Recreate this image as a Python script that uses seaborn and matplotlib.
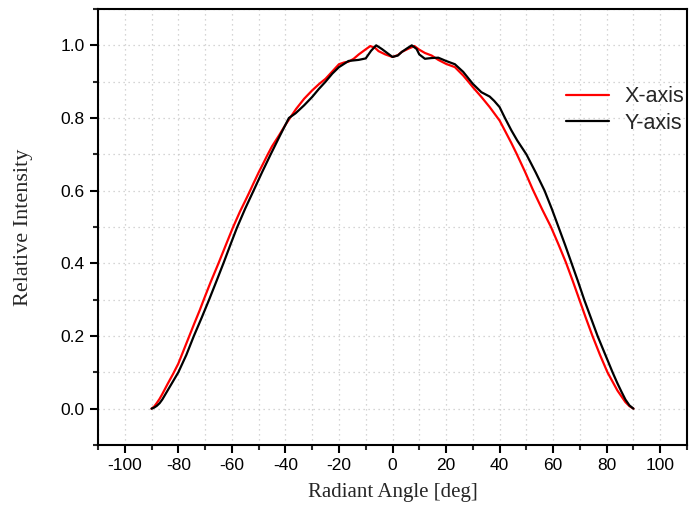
import numpy as np
import pandas as pd
import matplotlib
matplotlib.use("Agg")
import matplotlib.pyplot as plt
from matplotlib.ticker import MultipleLocator
import seaborn as sns

# X-axis series (red)
x_angles = [-90, -89, -88, -87, -86, -85, -84, -82, -80, -78, -76, -74, -72, -70.5, -68, -65, -62, -59.7,
            -57, -55, -53.5, -52, -50, -48, -47, -45, -43, -42.4, -40, -38.3, -36, -33, -30, -27.5, -25,
            -22, -20, -18, -16.4, -14.5, -12.6, -10, -8.3, -6.5, -5.2, -2.7,
            0, 2, 3.5, 6, 8.2, 10, 12.1, 14.6, 17.1, 20, 23.3, 26.4, 28, 30, 33.2, 36.3, 38, 40, 42, 44.4,
            46.4, 49.5, 52.4, 56, 59.2, 62, 64.8, 67.3, 69.8, 72.2, 74.7, 77.5, 80.3, 82, 84, 85.5, 87, 88.5, 90]
x_values = [0.0, 0.006, 0.016, 0.027, 0.04, 0.054, 0.068, 0.095, 0.124, 0.161, 0.198, 0.235, 0.271, 0.3, 0.347, 0.4, 0.455, 0.497,
            0.542, 0.572, 0.595, 0.619, 0.65, 0.679, 0.694, 0.722, 0.745, 0.752, 0.781, 0.8, 0.825, 0.853, 0.876, 0.893, 0.908,
            0.932, 0.948, 0.953, 0.955, 0.963, 0.975, 0.989, 0.998, 0.993, 0.984, 0.975,
            0.968, 0.973, 0.982, 0.991, 0.998, 0.988, 0.979, 0.972, 0.96, 0.949, 0.94, 0.917, 0.903, 0.885, 0.858, 0.83, 0.813, 0.793, 0.765, 0.731,
            0.701, 0.652, 0.603, 0.547, 0.5, 0.452, 0.402, 0.352, 0.3, 0.25, 0.2, 0.148, 0.1, 0.077, 0.05, 0.034, 0.018, 0.007, 0.0]

# Y-axis series (black)
y_angles = [-90, -89, -88, -87, -86, -84, -82, -80, -77, -74.2, -71.3, -68.5, -65.7, -63, -60.5, -58.1, -55,
            -51.9, -48.7, -45.5, -42, -38.7, -36.2, -33, -30, -27.5, -25, -22.5, -20, -16.4, -12.6, -10,
            -8, -6.1, -4, -2, 0, 2, 3.5, 5.5, 7.2, 9, 10, 12.1, 14.6, 17.1,
            20, 23.3, 26.4, 30, 33.2, 36.3, 38, 40, 42, 44.4, 46.6, 50, 53.5, 56.8, 59.5, 62, 64.5, 66.9,
            69.3, 71.6, 74.1, 76.6, 79.4, 82.2, 84, 85.5, 87, 88.5, 90]
y_values = [0.0, 0.003, 0.008, 0.015, 0.025, 0.05, 0.075, 0.1, 0.148, 0.2, 0.25, 0.3, 0.352, 0.403, 0.452, 0.498, 0.551,
            0.6, 0.651, 0.7, 0.752, 0.8, 0.813, 0.835, 0.858, 0.88, 0.9, 0.922, 0.94, 0.957, 0.96, 0.964,
            0.985, 1.0, 0.99, 0.979, 0.968, 0.972, 0.982, 0.992, 1.0, 0.99, 0.975, 0.963, 0.965, 0.966,
            0.957, 0.948, 0.927, 0.894, 0.871, 0.859, 0.847, 0.83, 0.8, 0.766, 0.738, 0.7, 0.65, 0.6, 0.55, 0.5, 0.45, 0.4,
            0.35, 0.3, 0.25, 0.2, 0.15, 0.1, 0.07, 0.047, 0.025, 0.009, 0.0]

series_names = ["X-axis", "Y-axis"]
series_colors = ["#ff0000", "#000000"]

df = pd.concat([
    pd.DataFrame({"angle": x_angles, "value": x_values, "series": series_names[0]}),
    pd.DataFrame({"angle": y_angles, "value": y_values, "series": series_names[1]}),
], ignore_index=True)

sns.set_style("white")
plt.rcParams["font.family"] = ["Liberation Sans", "DejaVu Sans"]

fig = plt.figure(figsize=(6.89, 5.17), dpi=100)
ax = fig.add_axes([98/689, 72/517, 589/689, 436/517])

sns.lineplot(data=df, x="angle", y="value", hue="series", palette=dict(zip(series_names, series_colors)),
             estimator=None, sort=True, linewidth=1.6, ax=ax)
for ln in ax.get_lines():
    ln.set_solid_joinstyle("round")
    ln.set_solid_capstyle("round")

ax.set_xlim(-110, 110)
ax.set_ylim(-0.1, 1.1)
ax.xaxis.set_minor_locator(MultipleLocator(10))
ax.yaxis.set_minor_locator(MultipleLocator(0.1))
ax.set_yticks([0.0, 0.2, 0.4, 0.6, 0.8, 1.0])
ax.set_yticklabels(["0.0", "0.2", "0.4", "0.6", "0.8", "1.0"])
ax.set_xticks(list(range(-100, 101, 20)))
ax.set_xticklabels([str(v) for v in range(-100, 101, 20)])

ax.grid(True, which="both", linestyle=(0, (1, 3)), color="#c8c8c8", linewidth=0.9)
ax.set_axisbelow(True)

ax.tick_params(axis="both", which="major", direction="out", length=6, width=1.5,
               labelsize=12.5, colors="black", bottom=True, left=True, top=False, right=False)
ax.tick_params(axis="both", which="minor", direction="out", length=3.5, width=1.5,
               bottom=True, left=True, top=False, right=False)
for side in ["left", "bottom", "top", "right"]:
    ax.spines[side].set_visible(True)
    ax.spines[side].set_color("black")
    ax.spines[side].set_linewidth(1.5)

ax.set_xlabel("Radiant Angle [deg]", family=["Liberation Serif", "DejaVu Serif"], fontsize=15, labelpad=7)
ax.set_ylabel("Relative Intensity", family=["Liberation Serif", "DejaVu Serif"], fontsize=16, labelpad=20)

leg = ax.legend(loc="center left", bbox_to_anchor=(0.762, 0.768), frameon=False, fontsize=15.5,
                handlelength=2.0, handletextpad=0.7, labelspacing=0.25)

fig.savefig("out.png", dpi=100)
